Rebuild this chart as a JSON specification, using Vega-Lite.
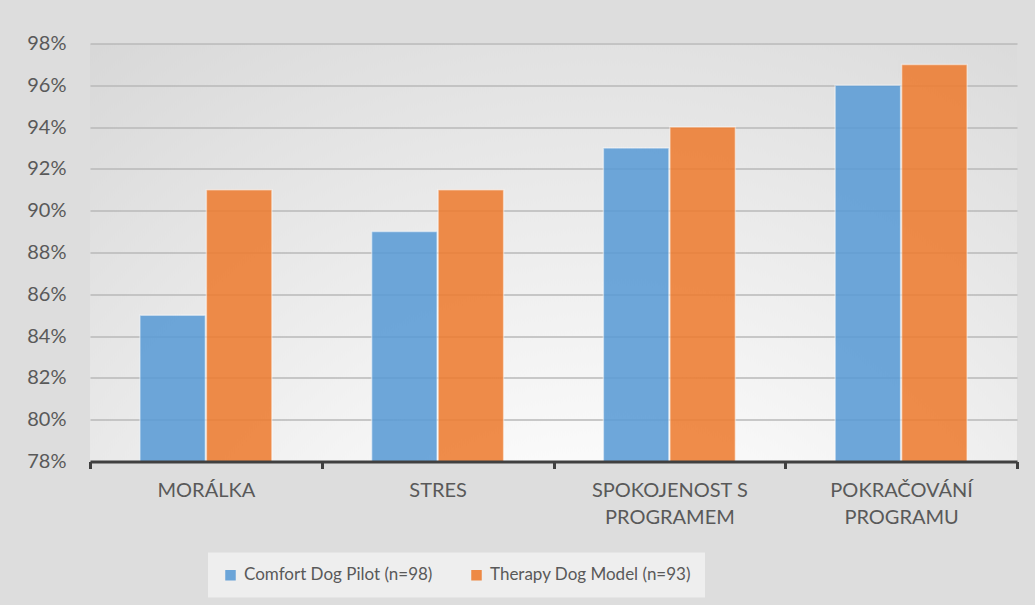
{
  "$schema": "https://vega.github.io/schema/vega-lite/v6.json",
  "width": 927,
  "height": 418,
  "autosize": {"type": "none"},
  "padding": {"left": 90, "top": 43.5, "right": 18, "bottom": 143.5},
  "background": "#dddddd",
  "config": {
    "font": "Lato",
    "view": {
      "stroke": null,
      "fill": {
        "gradient": "radial",
        "x1": 0.55, "y1": 1.05, "r1": 0,
        "x2": 0.55, "y2": 1.05, "r2": 1.3,
        "stops": [
          {"offset": 0, "color": "#ffffff"},
          {"offset": 0.25, "color": "#fafafa"},
          {"offset": 1, "color": "#c4c4c4"}
        ]
      }
    }
  },
  "data": {
    "values": [
      {"category": "MORÁLKA", "series": "Comfort Dog Pilot (n=98)", "value": 0.85},
      {"category": "MORÁLKA", "series": "Therapy Dog Model (n=93)", "value": 0.91},
      {"category": "STRES", "series": "Comfort Dog Pilot (n=98)", "value": 0.89},
      {"category": "STRES", "series": "Therapy Dog Model (n=93)", "value": 0.91},
      {"category": "SPOKOJENOST S PROGRAMEM", "series": "Comfort Dog Pilot (n=98)", "value": 0.93},
      {"category": "SPOKOJENOST S PROGRAMEM", "series": "Therapy Dog Model (n=93)", "value": 0.94},
      {"category": "POKRAČOVÁNÍ PROGRAMU", "series": "Comfort Dog Pilot (n=98)", "value": 0.96},
      {"category": "POKRAČOVÁNÍ PROGRAMU", "series": "Therapy Dog Model (n=93)", "value": 0.97}
    ]
  },
  "mark": {
    "type": "bar",
    "clip": true,
    "opacity": 0.88,
    "stroke": "#ffffff",
    "strokeWidth": 1.5,
    "strokeOpacity": 0.5
  },
  "encoding": {
    "x": {
      "field": "category",
      "type": "nominal",
      "sort": null,
      "scale": {"paddingInner": 0, "paddingOuter": 0},
      "axis": {
        "title": null,
        "labelAngle": 0,
        "zindex": 1,
        "domainColor": "#404040",
        "domainWidth": 3,
        "tickColor": "#404040",
        "tickWidth": 3,
        "tickSize": 7,
        "tickBand": "extent",
        "labelFontSize": 20,
        "labelColor": "#595959",
        "labelPadding": 12,
        "labelBaseline": "top",
        "labelLineHeight": 27,
        "labelExpr": "datum.label == 'SPOKOJENOST S PROGRAMEM' ? ['SPOKOJENOST S', 'PROGRAMEM'] : datum.label == 'POKRAČOVÁNÍ PROGRAMU' ? ['POKRAČOVÁNÍ', 'PROGRAMU'] : datum.label"
      }
    },
    "xOffset": {
      "field": "series",
      "type": "nominal",
      "sort": null,
      "scale": {"paddingInner": 0.015, "paddingOuter": 0.75}
    },
    "y": {
      "field": "value",
      "type": "quantitative",
      "scale": {"domain": [0.78, 0.98], "nice": false, "zero": false},
      "axis": {
        "title": null,
        "domain": false,
        "ticks": false,
        "grid": true,
        "gridColor": "#b8b8b8",
        "gridWidth": 1.5,
        "labelFontSize": 20,
        "labelColor": "#595959",
        "labelPadding": 24,
        "values": [0.78, 0.8, 0.82, 0.84, 0.86, 0.88, 0.9, 0.92, 0.94, 0.96, 0.98],
        "format": ".0%"
      }
    },
    "color": {
      "field": "series",
      "type": "nominal",
      "sort": null,
      "scale": {"range": ["#5b9bd5", "#ed7d31"]},
      "legend": {
        "title": null,
        "orient": "none",
        "legendX": 118,
        "legendY": 509,
        "direction": "horizontal",
        "labelFontSize": 17,
        "labelLimit": 400,
        "labelColor": "#595959",
        "symbolType": "square",
        "symbolSize": 110,
        "symbolStrokeWidth": 0,
        "symbolOpacity": 0.9,
        "fillColor": "rgba(255,255,255,0.5)",
        "padding": 14,
        "columnPadding": 35,
        "labelOffset": 5
      }
    }
  }
}
